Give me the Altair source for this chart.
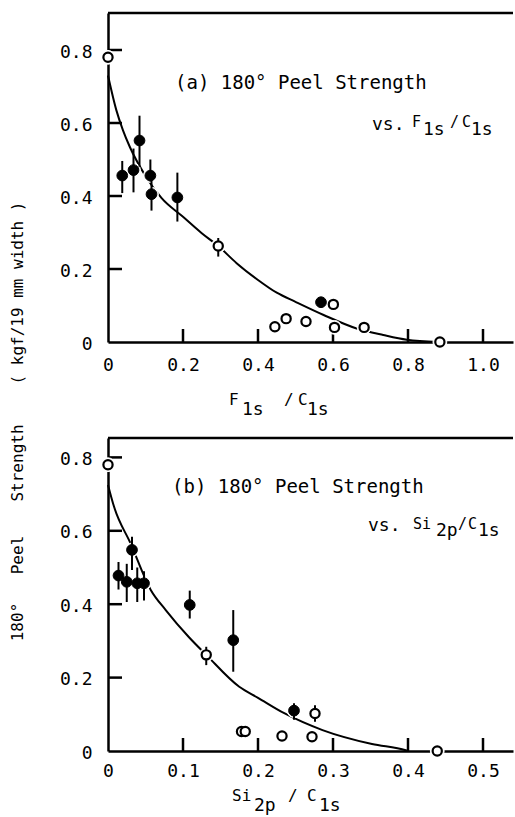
import altair as alt
import pandas as pd

MONO = "DejaVu Sans Mono"

# ---------------- Panel (a): peel strength vs F1s/C1s ----------------
a_xticks = [0, 0.2, 0.4, 0.6, 0.8, 1.0]
a_yticks = [0, 0.2, 0.4, 0.6, 0.8]

a_fill_x = [0.038, 0.068, 0.084, 0.113, 0.116, 0.185, 0.568]
a_fill_y = [0.456, 0.471, 0.552, 0.456, 0.405, 0.396, 0.109]
a_fill_lo = [0.408, 0.410, 0.480, 0.440, 0.360, 0.330, None]
a_fill_hi = [0.496, 0.530, 0.620, 0.500, 0.450, 0.464, None]

a_open_x = [0.0, 0.294, 0.445, 0.475, 0.528, 0.601, 0.604, 0.683, 0.885]
a_open_y = [0.78, 0.263, 0.042, 0.064, 0.056, 0.103, 0.040, 0.040, 0.0]
a_open_lo = [None, 0.234, None, None, None, None, None, None, None]
a_open_hi = [None, 0.285, None, None, None, None, None, None, None]

a_curve_x = [0, 0.022, 0.04, 0.058, 0.10, 0.143, 0.20, 0.25, 0.294, 0.343,
             0.40, 0.45, 0.50, 0.575, 0.663, 0.734, 0.797, 0.88]
a_curve_y = [0.73, 0.636, 0.58, 0.535, 0.455, 0.394, 0.343, 0.298, 0.263, 0.216,
             0.170, 0.135, 0.110, 0.074, 0.037, 0.019, 0.006, 0.0]

# ---------------- Panel (b): peel strength vs Si2p/C1s ----------------
b_xticks = [0, 0.1, 0.2, 0.3, 0.4, 0.5]
b_yticks = [0, 0.2, 0.4, 0.6, 0.8]

b_fill_x = [0.014, 0.025, 0.032, 0.039, 0.048, 0.109, 0.167, 0.248]
b_fill_y = [0.478, 0.461, 0.548, 0.457, 0.457, 0.398, 0.302, 0.110]
b_fill_lo = [0.440, 0.406, 0.493, 0.406, 0.410, 0.361, 0.216, 0.085]
b_fill_hi = [0.515, 0.510, 0.584, 0.500, 0.490, 0.437, 0.384, 0.130]

b_open_x = [0.0, 0.131, 0.178, 0.183, 0.232, 0.272, 0.276, 0.439]
b_open_y = [0.78, 0.262, 0.053, 0.053, 0.041, 0.039, 0.102, 0.0]
b_open_lo = [None, 0.234, None, None, None, None, 0.080, None]
b_open_hi = [None, 0.284, None, None, None, None, 0.125, None]

b_curve_x = [0, 0.008, 0.03, 0.057, 0.077, 0.108, 0.131, 0.175, 0.20, 0.235,
             0.286, 0.352, 0.397, 0.40]
b_curve_y = [0.725, 0.666, 0.566, 0.439, 0.384, 0.31, 0.262, 0.175, 0.145, 0.103,
             0.057, 0.019, 0.002, 0.0]


def txt(s, x, y, size, angle=0, align="left", baseline="alphabetic"):
    return alt.Chart(pd.DataFrame({"t": [s]})).mark_text(
        font=MONO, fontSize=size, color="black", align=align,
        baseline=baseline, angle=angle,
    ).encode(x=alt.value(x), y=alt.value(y), text="t:N")


def hrule(x1, x2, y1, tag):
    return alt.Chart(pd.DataFrame({"tag": [tag]})).mark_rule(
        color="black", strokeWidth=2.5).encode(
        x=alt.value(x1), x2=alt.value(x2), y=alt.value(y1))


def vrule(x1, y1, y2, tag):
    return alt.Chart(pd.DataFrame({"tag": [tag]})).mark_rule(
        color="black", strokeWidth=2.5).encode(
        x=alt.value(x1), y=alt.value(y1), y2=alt.value(y2))


def panel(W, H, xmax, ymax, xt, yt, cx, cy, fx, fy, flo, fhi, ox, oy, olo, ohi,
          texts, xlabpad, bbox):
    xs = alt.Scale(domain=[0, xmax], nice=False, zero=False)
    ys = alt.Scale(domain=[0, ymax], nice=False, zero=False)
    lab = "datum.value == 0 ? '0' : format(datum.value, '.1f')"
    common = dict(title=None, grid=False, ticks=False, tickSize=0,
                  domainColor="black", domainWidth=2.5, labelFont=MONO,
                  labelFontSize=18, labelColor="black", labelOverlap=False,
                  labelFlush=False, labelExpr=lab)
    xaxis = alt.Axis(values=xt, labelPadding=xlabpad, orient="bottom", **common)
    yaxis = alt.Axis(values=yt, labelPadding=16, labelOffset=2, orient="left",
                     **common)

    def X(f):
        return alt.X(f, scale=xs, axis=xaxis)

    def Y(f):
        return alt.Y(f, scale=ys, axis=yaxis)

    # inward tick marks at the axis tick values (same linear mapping as scales)
    ticks = []
    for i, v in enumerate(yt):
        if v > 0:
            ticks.append(hrule(0, 14, H * (1 - v / ymax), "y%d" % i))
    for i, v in enumerate(xt):
        if v > 0:
            ticks.append(vrule(W * v / xmax, H, H - 13, "x%d" % i))
    border = hrule(0, W, 0, "top")

    curve = alt.Chart(pd.DataFrame({"x": cx, "y": cy})).mark_line(
        interpolate="monotone", color="black", strokeWidth=2).encode(
        x=X("x:Q"), y=Y("y:Q"))

    pts = pd.DataFrame({"x": fx + ox, "y": fy + oy})
    halo = alt.Chart(pts).mark_point(
        shape="circle", filled=True, fill="white", stroke="white",
        strokeWidth=1, size=190, opacity=1).encode(x=X("x:Q"), y=Y("y:Q"))

    ex, elo, ehi = [], [], []
    for x, lo, hi in zip(fx + ox, flo + olo, fhi + ohi):
        if lo is not None and hi is not None:
            ex.append(x)
            elo.append(lo)
            ehi.append(hi)
    err = alt.Chart(pd.DataFrame({"x": ex, "y": elo, "hi": ehi})).mark_rule(
        color="black", strokeWidth=2).encode(x=X("x:Q"), y=Y("y:Q"), y2="hi:Q")

    opens = alt.Chart(pd.DataFrame({"x": ox, "y": oy})).mark_point(
        shape="circle", filled=True, fill="white", stroke="black",
        strokeWidth=2.2, size=85, opacity=1).encode(x=X("x:Q"), y=Y("y:Q"))
    fills = alt.Chart(pd.DataFrame({"x": fx, "y": fy})).mark_point(
        shape="circle", filled=True, fill="black", stroke="black",
        strokeWidth=1, size=115, opacity=1).encode(x=X("x:Q"), y=Y("y:Q"))

    box = alt.Chart(pd.DataFrame({"b": [0]})).mark_rect(opacity=0).encode(
        x=alt.value(bbox[0]), x2=alt.value(bbox[1]),
        y=alt.value(bbox[2]), y2=alt.value(bbox[3]))

    return alt.layer(curve, *ticks, border, halo, err, opens, fills, box,
                     *texts).properties(width=W, height=H)


W = 405
Ha, Hb = 329, 313

texts_a = [
    txt("(a) 180° Peel Strength", 67, 76, 19),
    txt("vs.", 264, 117, 18),
    txt("F", 304, 114, 15),
    txt("1s", 315, 122, 18),
    txt("/", 342, 114, 15),
    txt("C", 354, 114, 15),
    txt("1s", 363, 122, 18),
    # x-axis title
    txt("F", 121, 392, 16),
    txt("1s", 134, 402, 18),
    txt("/", 176, 392, 16),
    txt("C", 190, 392, 16),
    txt("1s", 199, 402, 18),
    # shared y-axis title
    txt("180°", -90, 609, 16, angle=270, align="center", baseline="middle"),
    txt("Peel", -90, 542, 16, angle=270, align="center", baseline="middle"),
    txt("Strength", -90, 450, 16, angle=270, align="center", baseline="middle"),
    txt("( kgf/19 mm width )", -90, 280, 16, angle=270, align="center",
        baseline="middle"),
]

texts_b = [
    txt("(b) 180° Peel Strength", 64, 55, 19),
    txt("vs.", 260, 93, 18),
    txt("Si", 305, 91, 15),
    txt("2p", 328, 98, 18),
    txt("/", 350, 91, 15),
    txt("C", 360, 91, 15),
    txt("1s", 370, 98, 18),
    # x-axis title
    txt("Si", 124, 363, 16),
    txt("2p", 146, 373, 18),
    txt("/", 180, 363, 16),
    txt("C", 199, 363, 16),
    txt("1s", 211, 373, 18),
]

pa = panel(W, Ha, W / 375.0, Ha / 365.0, a_xticks, a_yticks, a_curve_x, a_curve_y,
           a_fill_x, a_fill_y, a_fill_lo, a_fill_hi,
           a_open_x, a_open_y, a_open_lo, a_open_hi,
           texts_a, 14, (-108, 407, -13, Ha))
pb = panel(W, Hb, W / 750.0, Hb / 367.0, b_xticks, b_yticks, b_curve_x, b_curve_y,
           b_fill_x, b_fill_y, b_fill_lo, b_fill_hi,
           b_open_x, b_open_y, b_open_lo, b_open_hi,
           texts_b, 11, (-108, 407, 0, Hb + 66))

chart = alt.vconcat(pa, pb, spacing=96, bounds="flush").properties(
    padding={"left": 0, "top": 0, "right": 0, "bottom": 0},
    background="white",
).configure_view(stroke=None)

chart.save("out.html", embed_options={"renderer": "svg", "actions": False})
